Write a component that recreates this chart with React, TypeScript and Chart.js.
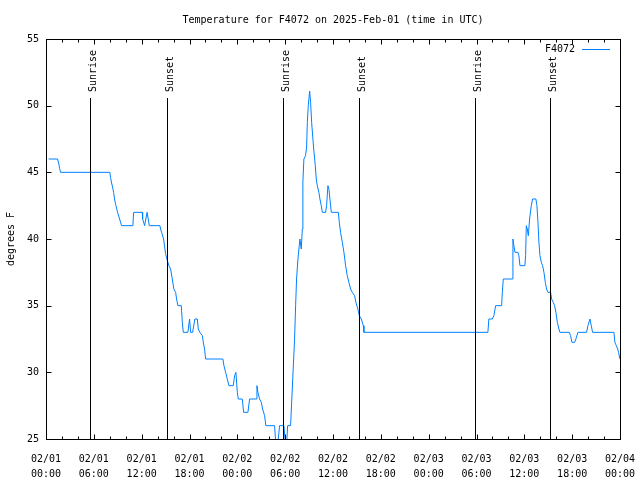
import React, { useEffect, useRef } from "react";
import { Chart, registerables } from "chart.js";

Chart.register(...registerables);

const TITLE = "Temperature for F4072 on 2025-Feb-01 (time in UTC)";
const SERIES_NAME = "F4072";
const Y_LABEL = "degrees F";

// hours since 02/01 00:00 UTC
const HOURS = [
  0.33, 1.45, 1.58, 1.71, 1.83, 8.01, 8.1, 8.23, 8.35, 8.48,
  8.6, 8.73, 8.98, 9.23, 9.48, 10.9, 10.99, 12.08, 12.12, 12.37,
  12.68, 12.96, 14.29, 14.37, 14.5, 14.75, 15.0, 15.21, 15.42, 15.63,
  15.84, 16.04, 16.26, 16.38, 16.54, 16.97, 17.1, 17.22, 17.8, 18.01,
  18.14, 18.39, 18.68, 18.98, 19.1, 19.3, 19.61, 19.73, 19.89, 20.02,
  22.19, 22.32, 22.53, 22.74, 22.94, 23.49, 23.66, 23.82, 24.0, 24.12,
  24.62, 24.79, 25.33, 25.54, 26.38, 26.46, 26.58, 26.79, 27.01, 27.17,
  27.42, 27.58, 28.67, 28.84, 29.05, 29.3, 29.84, 30.05, 30.18, 30.31,
  30.68, 31.18, 31.31, 31.43, 31.6, 31.85, 32.02, 32.15, 32.22, 32.35,
  32.56, 32.69, 32.78, 32.9, 33.07, 33.19, 33.32, 33.48, 33.6, 33.78,
  33.9, 34.03, 34.23, 34.36, 34.53, 34.66, 35.07, 35.2, 35.36, 35.49,
  35.61, 35.79, 36.67, 36.79, 36.95, 37.17, 37.37, 37.58, 37.79, 37.99,
  38.21, 38.42, 38.71, 38.87, 39.12, 39.3, 39.55, 39.8, 39.88, 55.43,
  55.55, 55.98, 56.18, 56.4, 57.15, 57.24, 57.36, 58.49, 58.57, 58.69,
  58.82, 59.2, 59.32, 59.45, 60.07, 60.16, 60.25, 60.37, 60.5, 60.66,
  60.87, 61.04, 61.45, 61.58, 61.71, 61.83, 61.96, 62.13, 62.29, 62.46,
  62.63, 62.79, 62.96, 63.3, 63.42, 63.63, 63.8, 63.96, 64.14, 64.34,
  64.46, 65.64, 65.8, 65.97, 66.31, 66.47, 66.72, 67.81, 67.98, 68.23,
  68.4, 68.56, 71.24, 71.36, 71.54, 71.7, 71.82, 71.99,
];

const TEMPS_F = [
  46, 46, 45.7, 45.3, 45, 45, 44.6, 44.2, 43.9, 43.5,
  43.0, 42.6, 42, 41.5, 41, 41, 42, 42, 41.5, 41,
  42, 41, 41, 40.75, 40.5, 40, 38.9, 38.4, 38.0, 37.75,
  37, 36.25, 36, 35.5, 35, 35, 33.75, 33, 33, 34,
  33, 33, 34, 34, 33.25, 33, 32.75, 32.25, 31.75, 31,
  31, 30.5, 30.0, 29.5, 29.0, 29.0, 29.75, 30, 28.5, 28.0,
  28, 27, 27, 28, 28, 29, 28.5, 28, 27.75, 27.25,
  26.75, 26, 26, 24.5, 24.5, 26, 26, 24.5, 24.5, 26,
  26, 32.5, 35, 37, 38.5, 40, 39.25, 40.75, 44.25, 46,
  46.25, 46.9, 48.75, 50, 51.1, 50.25, 48.75, 47.5, 46.6, 45.5,
  44.5, 44, 43.5, 43, 42.5, 42, 42, 42.5, 44, 43.75,
  43, 42, 42, 41.25, 40.5, 39.75, 39, 38, 37.25, 36.75,
  36.25, 36, 35.75, 35.25, 34.75, 34.25, 34, 33.5, 33, 33,
  34, 34, 34.25, 35, 35, 36, 37, 37, 40, 39.5,
  39, 39, 38.75, 38, 38, 38.75, 41, 40.75, 40.25, 41.5,
  42.5, 43, 43, 42.5, 41.25, 39.75, 38.75, 38.25, 38, 37.5,
  36.75, 36.25, 36, 36, 35.5, 35.25, 35, 34.5, 33.75, 33.25,
  33, 33, 32.75, 32.25, 32.25, 32.5, 33, 33, 33.5, 34,
  33.5, 33, 33, 32.25, 32, 31.75, 31.5, 31,
];

const EVENT_HOURS = [5.58, 15.12, 29.67, 39.2, 53.75, 63.28];
const EVENT_LABELS = ["Sunrise", "Sunset", "Sunrise", "Sunset", "Sunrise", "Sunset"];

const X_TICK_DATES = ["02/01", "02/01", "02/01", "02/01", "02/02", "02/02", "02/02", "02/02", "02/03", "02/03", "02/03", "02/03", "02/04"];
const X_TICK_TIMES = ["00:00", "06:00", "12:00", "18:00", "00:00", "06:00", "12:00", "18:00", "00:00", "06:00", "12:00", "18:00", "00:00"];
const X_MAX_HOURS = 72;
const X_MAJOR_STEP = 6;
const X_MINOR_STEP = 2;
const Y_MIN = 25;
const Y_MAX = 55;
const Y_STEP = 5;

const LINE_COLOR = "#0080ff";
const FONT = "DejaVu Sans Mono";

const framePlugin = {
  id: "gnuplotFrame",
  afterDraw(chart: any) {
    const { ctx, chartArea } = chart;
    const { left, right, top, bottom } = chartArea;
    const xs = chart.scales.x;
    const ys = chart.scales.y;
    ctx.save();
    ctx.strokeStyle = "#000";
    ctx.lineWidth = 1;
    ctx.strokeRect(Math.round(left) + 0.5, Math.round(top) + 0.5, Math.round(right - left), Math.round(bottom - top));
    const L = Math.round(left) + 0.5;
    const R = Math.round(right) + 0.5;
    const T = Math.round(top) + 0.5;
    const B = Math.round(bottom) + 0.5;
    ctx.beginPath();
    for (let h = 0; h <= X_MAX_HOURS; h += X_MINOR_STEP) {
      const px = Math.round(xs.getPixelForValue(h)) + 0.5;
      const len = h % X_MAJOR_STEP === 0 ? 5 : 3;
      ctx.moveTo(px, B);
      ctx.lineTo(px, B - len);
      ctx.moveTo(px, T);
      ctx.lineTo(px, T + len);
    }
    for (let v = Y_MIN; v <= Y_MAX; v += Y_STEP) {
      const py = Math.round(ys.getPixelForValue(v)) + 0.5;
      ctx.moveTo(L, py);
      ctx.lineTo(L + 5, py);
      ctx.moveTo(R, py);
      ctx.lineTo(R - 5, py);
    }
    ctx.stroke();

    ctx.font = `10px "${FONT}"`;
    ctx.fillStyle = "#000";
    EVENT_HOURS.forEach((h, i) => {
      const px = Math.round(xs.getPixelForValue(h)) + 0.5;
      ctx.beginPath();
      ctx.moveTo(px, 98);
      ctx.lineTo(px, B);
      ctx.stroke();
      ctx.save();
      ctx.translate(px + 5.5, 92);
      ctx.rotate(-Math.PI / 2);
      ctx.textAlign = "left";
      ctx.textBaseline = "alphabetic";
      ctx.fillText(EVENT_LABELS[i], 0, 0);
      ctx.restore();
    });

    ctx.textAlign = "right";
    ctx.textBaseline = "middle";
    ctx.fillText(chart.data.datasets[0].label, 575, 49);
    ctx.strokeStyle = chart.data.datasets[0].borderColor;
    ctx.beginPath();
    ctx.moveTo(582, 49.5);
    ctx.lineTo(610, 49.5);
    ctx.stroke();

    ctx.fillStyle = "#000";
    ctx.textAlign = "center";
    ctx.textBaseline = "middle";
    ctx.fillText(TITLE, (left + right) / 2, 20);
    ctx.restore();
  },
};

export default function App() {
  const canvasRef = useRef<HTMLCanvasElement | null>(null);

  useEffect(() => {
    if (!canvasRef.current) return;
    const chart = new Chart(canvasRef.current, {
      type: "line",
      data: {
        datasets: [
          {
            label: SERIES_NAME,
            data: HOURS.map((h, i) => ({ x: h, y: TEMPS_F[i] })),
            borderColor: LINE_COLOR,
            backgroundColor: LINE_COLOR,
            borderWidth: 1,
            pointRadius: 0,
            tension: 0,
            fill: false,
          },
        ],
      },
      options: {
        responsive: false,
        animation: false,
        devicePixelRatio: 1,
        layout: { padding: { top: 39, right: 20, left: 0, bottom: 0 } },
        plugins: {
          legend: { display: false },
          tooltip: { enabled: false },
          title: { display: false },
        },
        scales: {
          x: {
            type: "linear",
            min: 0,
            max: X_MAX_HOURS,
            afterFit: (s: any) => {
              s.height = 41;
              s.paddingLeft = 0;
              s.paddingRight = 0;
              s.paddingTop = 0;
              s.paddingBottom = 0;
            },
            grid: { display: false, drawTicks: false },
            border: { display: false },
            ticks: {
              stepSize: X_MAJOR_STEP,
              autoSkip: false,
              maxRotation: 0,
              minRotation: 0,
              padding: 13,
              color: "#000",
              font: { family: FONT, size: 10, lineHeight: 1.5 },
              callback: (v: any) => {
                const i = Math.round(Number(v) / X_MAJOR_STEP);
                return [X_TICK_DATES[i], X_TICK_TIMES[i]];
              },
            },
          },
          y: {
            type: "linear",
            min: Y_MIN,
            max: Y_MAX,
            afterFit: (s: any) => {
              s.width = 46;
              s.paddingLeft = 0;
              s.paddingRight = 0;
              s.paddingTop = 0;
              s.paddingBottom = 0;
            },
            grid: { display: false, drawTicks: false },
            border: { display: false },
            ticks: {
              stepSize: Y_STEP,
              padding: 7,
              color: "#000",
              font: { family: FONT, size: 10 },
            },
            title: {
              display: true,
              text: Y_LABEL,
              color: "#000",
              font: { family: FONT, size: 10 },
              padding: { top: 5, bottom: 0 },
            },
          },
        },
      },
      plugins: [framePlugin],
    });
    return () => chart.destroy();
  }, []);

  return (
    <div style={{ position: "absolute", left: 0, top: 0, width: 640, height: 480, background: "#fff" }}>
      <canvas ref={canvasRef} width={640} height={480} />
    </div>
  );
}
